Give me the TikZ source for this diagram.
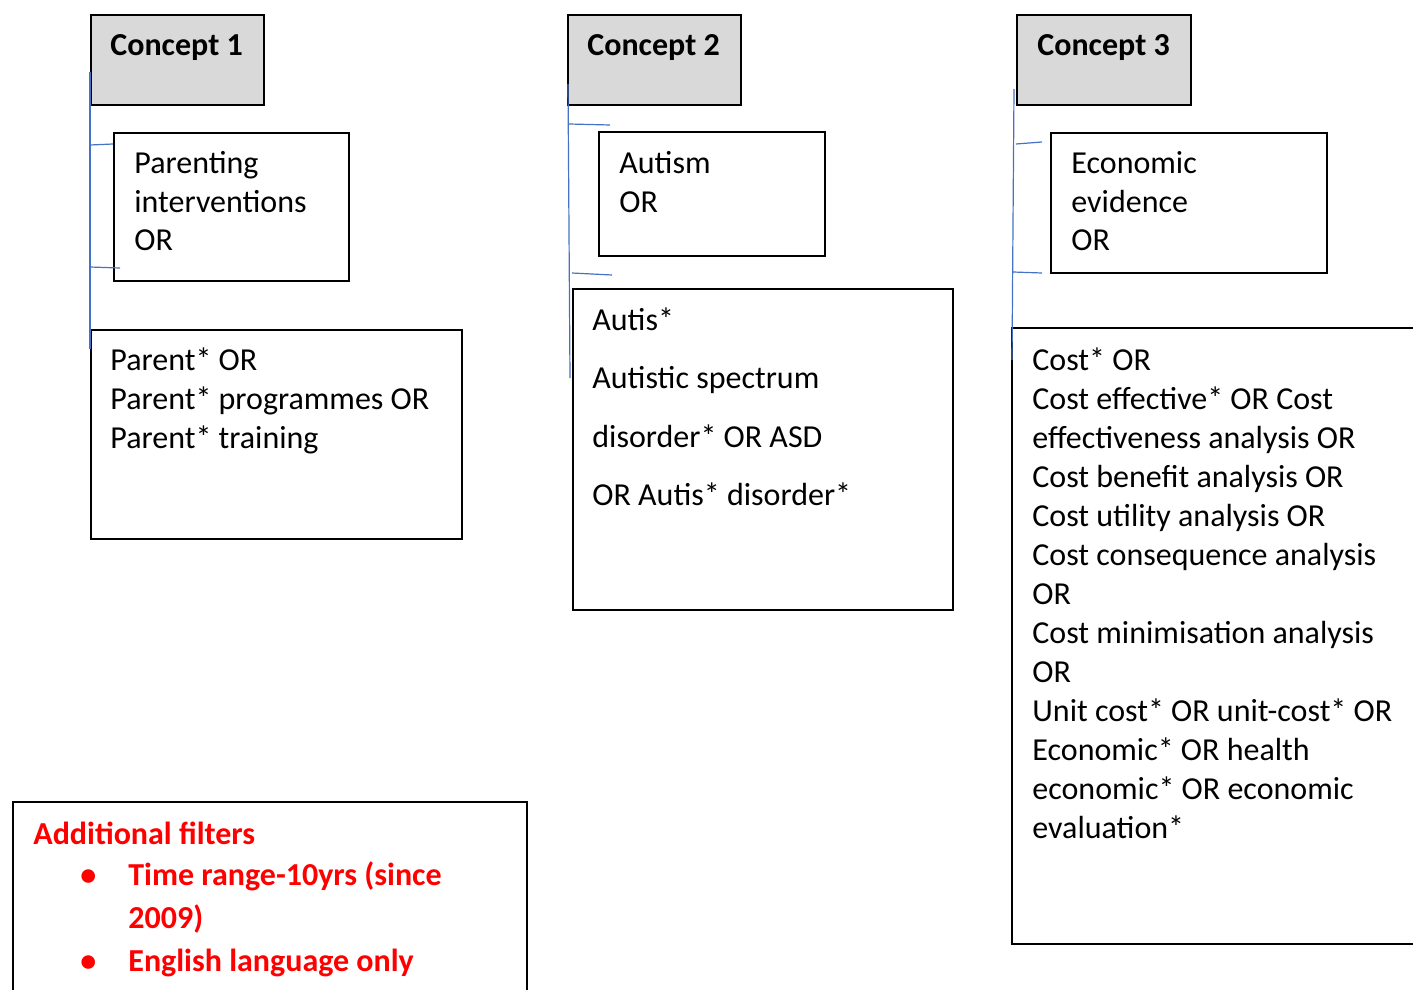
\documentclass[tikz,border=0pt]{standalone}
\usepackage{fontspec}
\setmainfont{Carlito}
\usetikzlibrary{positioning}
\definecolor{lineblue}{HTML}{4472C4}
\definecolor{boxgray}{HTML}{D9D9D9}
\definecolor{filterred}{HTML}{FF0000}

% lines of a box, baseline on the first one
\newcommand{\boxlines}[1]{\begin{tabular}[t]{@{}l@{}}#1\end{tabular}}

\tikzset{
  box/.style={draw, line width=0.9pt, anchor=north west, inner sep=0pt},
  headbox/.style={box, fill=boxgray, minimum width=86.5pt, minimum height=45pt},
  txt/.style={anchor=base west, inner sep=0pt, font=\fontsize{16}{19.5}\selectfont},
  redtxt/.style={txt, text=filterred, font=\fontsize{16}{21.5}\selectfont\bfseries},
  link/.style={lineblue, line width=0.6pt},
}

\begin{document}
\begin{tikzpicture}[x=0.5pt, y=-0.5pt]
\useasboundingbox (0,0) rectangle (1413,990);

% concept headers
\node[headbox] (c1) at (90,14) {};
\node[headbox] (c2) at (567,14) {};
\node[headbox, minimum width=87pt] (c3) at (1016,14) {};
\node[txt, font=\fontsize{16}{19.5}\selectfont\bfseries] (c1t) at (110,56) {Concept 1};
\node[txt, font=\fontsize{16}{19.5}\selectfont\bfseries] (c2t) at (587,56) {Concept 2};
\node[txt, font=\fontsize{16}{19.5}\selectfont\bfseries] (c3t) at (1037,56) {Concept 3};

% concept 1
\node[box, minimum width=117.5pt, minimum height=74pt] (p1) at (113,132) {};
\node[txt] (p1t) at (134,173) {\boxlines{Parenting\\interventions\\OR}};
\node[box, minimum width=185.5pt, minimum height=104.5pt] (p2) at (90,329) {};
\node[txt] (p2t) at (110,370) {\boxlines{Parent* OR\\Parent* programmes OR\\Parent* training}};

% concept 2
\node[box, minimum width=113pt, minimum height=62pt] (a1) at (598,131) {};
\node[txt] (a1t) at (619,173) {\boxlines{Autism\\OR}};
\node[box, minimum width=190pt, minimum height=160.5pt] (a2) at (572,288) {};
\node[txt, font=\fontsize{16}{29.25}\selectfont] (a2t) at (592,330)
  {\boxlines{Autis*\\Autistic spectrum\\disorder* OR ASD\\OR Autis* disorder*}};

% concept 3
\node[box, minimum width=138pt, minimum height=70pt] (e1) at (1050,132) {};
\node[txt] (e1t) at (1071,173) {\boxlines{Economic\\evidence\\OR}};
\node[box, minimum width=206pt, minimum height=308pt] (e2) at (1011,327) {};
\node[txt] (e2t) at (1032,370) {\boxlines{Cost* OR\\Cost effective* OR Cost\\effectiveness analysis OR\\
  Cost benefit analysis OR\\Cost utility analysis OR\\Cost consequence analysis\\OR\\
  Cost minimisation analysis\\OR\\Unit cost* OR unit-cost* OR\\Economic* OR health\\
  economic* OR economic\\evaluation*}};

% filters
\node[box, minimum width=257pt, minimum height=100pt] (f) at (12,801) {};
\node[redtxt] (ft) at (33,844) {Additional filters};
\node[redtxt] (f1) at (128,885) {\boxlines{Time range-10yrs (since\\2009)}};
\node[redtxt] (f2) at (128,971) {English language only};
\node[redtxt] (b1) at (80,885) {\textbullet};
\node[redtxt] (b2) at (80,971) {\textbullet};

% blue connectors
\coordinate (s1a) at (90,72);  \coordinate (s1b) at (90,349);
\coordinate (s2a) at (568,84); \coordinate (s2b) at (570,378);
\coordinate (s3a) at (1014,89); \coordinate (s3b) at (1012,360);
\draw[link] (s1a) -- (s1b);
\draw[link] (90,145) -- (p1.west |- 0,144);
\draw[link] (90,267) -- (120,268);
\draw[link] (s2a) -- (s2b);
\draw[link] (569,124) -- (610,125);
\draw[link] (572,273) -- (612,275);
\draw[link] (s3a) -- (s3b);
\draw[link] (1016,144) -- (1042,142);
\draw[link] (1013,272) -- (1042,273);
\end{tikzpicture}
\end{document}
